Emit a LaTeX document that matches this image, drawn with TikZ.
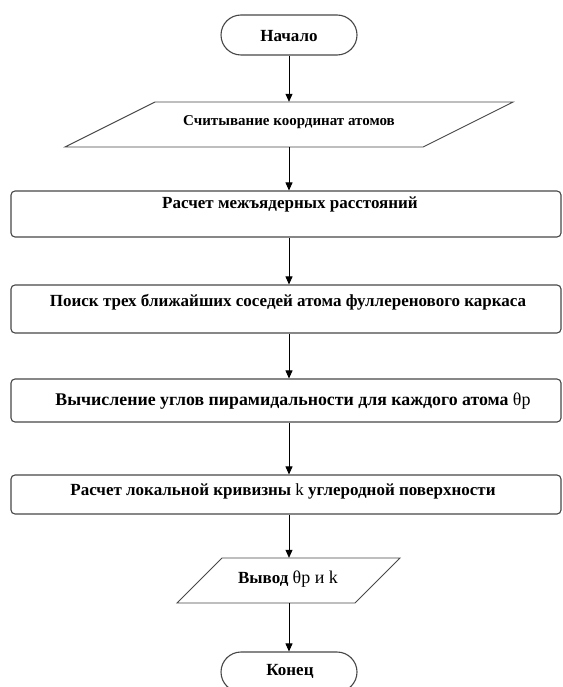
\documentclass[tikz,border=0pt]{standalone}
\usepackage{fontspec}
\setmainfont{Liberation Serif}
\usetikzlibrary{arrows.meta}
\tikzset{
  x=1pt,y=-1pt,
  boxline/.style={draw=black!72,line width=1.1pt},
  procbox/.style={boxline,rectangle,rounded corners=4pt,minimum width=550pt,inner sep=0pt},
  termbox/.style={boxline,rectangle,rounded corners=20pt,minimum width=136pt,minimum height=40pt,inner sep=0pt},
  parabox/.style={inner sep=0pt,minimum width=10pt},
  txt/.style={font=\fontsize{17}{20}\selectfont\bfseries,inner sep=0pt},
  flow/.style={draw=black,line width=0.8pt,-{Triangle[length=8pt,width=7pt]}}
}
\begin{document}
\begin{tikzpicture}
\useasboundingbox[fill=white] (0,0) rectangle (562,687);
% terminals
\node[termbox] (start) at (289,35) {};
\node[txt] (starttxt) at (289,36) {Начало};
% parallelogram 1
\draw[boxline,line width=0.9pt] (155,102) -- (513,102) -- (423,147) -- (65,147) -- cycle;
\node[parabox,minimum height=45pt] (p1) at (289,124.5) {};
\node[txt,font=\fontsize{15}{18}\selectfont\bfseries] (p1txt) at (289,122) {Считывание координат атомов};
% process boxes
\node[procbox,minimum height=46pt] (r1) at (286,214) {};
\node[txt] (r1txt) at (290,204) {Расчет межъядерных расстояний};
\node[procbox,minimum height=48pt] (r2) at (286,309) {};
\node[txt] (r2txt) at (288,302) {Поиск трех ближайших соседей атома фуллеренового каркаса};
\node[procbox,minimum height=43pt] (r3) at (286,400.5) {};
\node[txt,font=\fontsize{17.8}{20}\selectfont\bfseries] (r3txt) at (293,401) {Вычисление углов пирамидальности для каждого атома {\mdseries\fontsize{18}{20}\selectfont θр}};
\node[procbox,minimum height=39pt] (r4) at (286,494.5) {};
\node[txt] (r4txt) at (283,491) {Расчет локальной кривизны {\mdseries k} углеродной поверхности};
% parallelogram 2
\draw[boxline,line width=0.9pt] (222,558) -- (400,558) -- (355,603) -- (177,603) -- cycle;
\node[parabox,minimum height=45pt] (p2) at (289,580.5) {};
\node[txt] (p2txt) at (288,579) {Вывод {\mdseries\fontsize{18}{20}\selectfont θр и k}};
% end
\node[termbox] (stop) at (289,672) {};
\node[txt] (stoptxt) at (290,671) {Конец};
% connectors
\draw[flow] (start.south) -- (p1.north);
\draw[flow] (p1.south) -- (p1.south |- r1.north);
\draw[flow] (p1.south |- r1.south) -- (p1.south |- r2.north);
\draw[flow] (p1.south |- r2.south) -- (p1.south |- r3.north);
\draw[flow] (p1.south |- r3.south) -- (p1.south |- r4.north);
\draw[flow] (p1.south |- r4.south) -- (p2.north);
\draw[flow] (p2.south) -- (stop.north);
\end{tikzpicture}
\end{document}
